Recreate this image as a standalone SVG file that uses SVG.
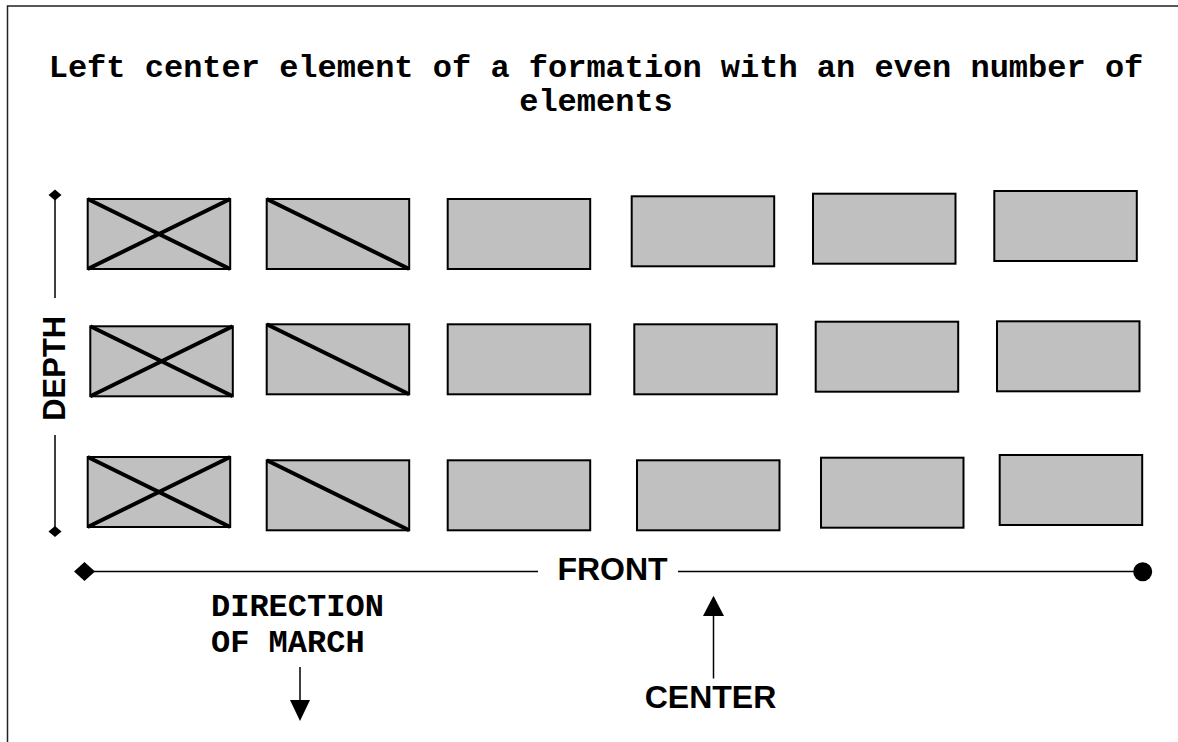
<svg xmlns="http://www.w3.org/2000/svg" width="1178" height="742" viewBox="0 0 1178 742">
  <style>
    .el { fill: #C0C0C0; stroke: #000; stroke-width: 2; }
    .x { stroke: #000; stroke-width: 4; fill: none; }
    .ln { stroke: #000; stroke-width: 1.5; fill: none; }
    .blk { fill: #000; stroke: none; }
    .mono { font-family: "Liberation Mono", "Courier New", monospace; font-weight: bold; font-size: 32px; fill: #000; }
    .sans { font-family: "Liberation Sans", Arial, sans-serif; font-weight: bold; font-size: 32px; fill: #000; }
  </style>
  <rect x="0" y="0" width="1178" height="742" fill="#fff"/>
  <path id="border" d="M7.5,742 V6 H1178" stroke="#222" stroke-width="1.5" fill="none"/>

  <g id="title">
    <text class="mono" x="596" y="77" text-anchor="middle">Left center element of a formation with an even number of</text>
    <text class="mono" x="596" y="111" text-anchor="middle">elements</text>
  </g>

  <g id="row1">
    <g id="r1c1"><rect class="el" x="87.7" y="199" width="142.5" height="70"/><path class="x" d="M87.7,199 L230.2,269 M87.7,269 L230.2,199"/></g>
    <g id="r1c2"><rect class="el" x="266.7" y="199" width="142.5" height="70"/><path class="x" d="M266.7,199 L409.2,269"/></g>
    <g id="r1c3"><rect class="el" x="447.7" y="199" width="142.5" height="70"/></g>
    <g id="r1c4"><rect class="el" x="631.7" y="196.3" width="142.5" height="70"/></g>
    <g id="r1c5"><rect class="el" x="813" y="193.7" width="142.5" height="70"/></g>
    <g id="r1c6"><rect class="el" x="994.3" y="191" width="142.5" height="70"/></g>
  </g>
  <g id="row2">
    <g id="r2c1"><rect class="el" x="90.3" y="326.3" width="142.5" height="70"/><path class="x" d="M90.3,326.3 L232.8,396.3 M90.3,396.3 L232.8,326.3"/></g>
    <g id="r2c2"><rect class="el" x="266.7" y="324.3" width="142.5" height="70"/><path class="x" d="M266.7,324.3 L409.2,394.3"/></g>
    <g id="r2c3"><rect class="el" x="447.7" y="324.3" width="142.5" height="70"/></g>
    <g id="r2c4"><rect class="el" x="634.3" y="324.3" width="142.5" height="70"/></g>
    <g id="r2c5"><rect class="el" x="815.7" y="321.7" width="142.5" height="70"/></g>
    <g id="r2c6"><rect class="el" x="997" y="321.3" width="142.5" height="70"/></g>
  </g>
  <g id="row3">
    <g id="r3c1"><rect class="el" x="87.7" y="457" width="142.5" height="70"/><path class="x" d="M87.7,457 L230.2,527 M87.7,527 L230.2,457"/></g>
    <g id="r3c2"><rect class="el" x="266.7" y="460.3" width="142.5" height="70"/><path class="x" d="M266.7,460.3 L409.2,530.3"/></g>
    <g id="r3c3"><rect class="el" x="447.7" y="460.3" width="142.5" height="70"/></g>
    <g id="r3c4"><rect class="el" x="637" y="460.3" width="142.5" height="70"/></g>
    <g id="r3c5"><rect class="el" x="821" y="457.7" width="142.5" height="70"/></g>
    <g id="r3c6"><rect class="el" x="999.7" y="455" width="142.5" height="70"/></g>
  </g>

  <g id="connectors">
    <!-- depth -->
    <path class="ln" d="M55,195 V298 M55,435 V531.5"/>
    <polygon class="blk" points="48.5,195 55,189.5 61.5,195 55,200.5"/>
    <polygon class="blk" points="48.5,531.5 55,526 61.5,531.5 55,537"/>
    <!-- front -->
    <path class="ln" d="M84.5,571.5 H538 M678,571.5 H1142.7"/>
    <polygon class="blk" points="74,571.5 84.5,562 95,571.5 84.5,581"/>
    <circle class="blk" cx="1142.7" cy="571.7" r="9.5"/>
    <!-- direction of march -->
    <path class="ln" d="M300,667 V701"/>
    <polygon class="blk" points="290,700 310,700 300,721"/>
    <!-- center -->
    <path class="ln" d="M713.5,678.5 V615"/>
    <polygon class="blk" points="703,616 724,616 713.5,595.7"/>
  </g>

  <g id="labels">
    <text class="sans" x="65" y="368.3" text-anchor="middle" transform="rotate(-90 65 368.3)" style="font-size:31px">DEPTH</text>
    <text class="sans" x="612.5" y="580" text-anchor="middle">FRONT</text>
    <text class="sans" x="710.5" y="708.3" text-anchor="middle">CENTER</text>
    <text class="mono" x="211" y="616">DIRECTION</text>
    <text class="mono" x="211" y="652">OF MARCH</text>
  </g>
</svg>
